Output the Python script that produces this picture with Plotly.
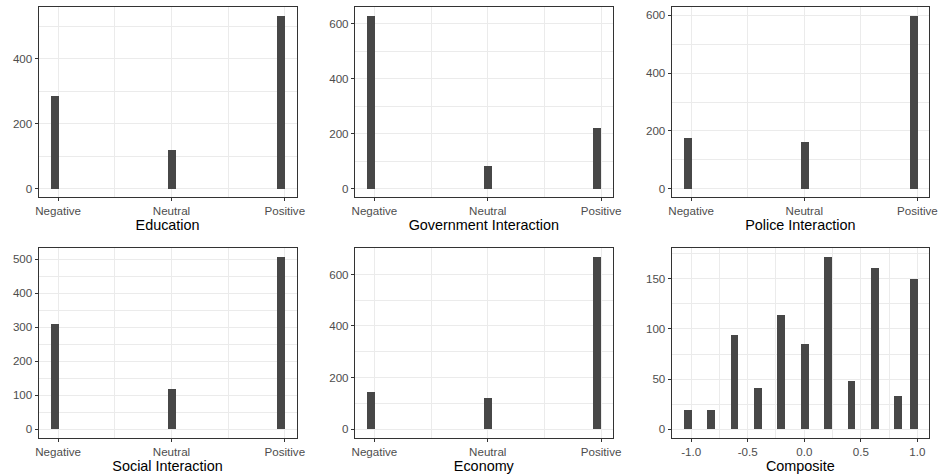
import numpy as np
import plotly.graph_objects as go

# Sentiment categories coded 1/2/3 on the x axis
categories = ["Negative", "Neutral", "Positive"]
category_codes = [1, 2, 3]

education = [284, 119, 532]
government = [629, 81, 222]
police = [175, 160, 599]
social = [309, 117, 507]
economy = [144, 121, 668]

# Composite score (mean of the five sentiment items) and its counts
composite_values = [-1.0, -0.8, -0.6, -0.4, -0.2, 0.0, 0.2, 0.4, 0.6, 0.8, 1.0]
composite_counts = [19, 19, 94, 41, 114, 85, 172, 48, 161, 33, 150]
composite_ticks = [-1.0, -0.5, 0.0, 0.5, 1.0]

panels = [
    ("Education", education),
    ("Government Interaction", government),
    ("Police Interaction", police),
    ("Social Interaction", social),
    ("Economy", economy),
]

BAR = "#474747"
GRID = "#ebebeb"
BORDER = "#333333"
TICKTXT = "#4d4d4d"
FONT = "Liberation Sans, Arial, sans-serif"

W, H = 946, 476
col_px = [(36, 297), (356, 617), (676.5, 937)]
row_px = [(7, 197.3), (248.3, 437.7)]


def bin_centers(values, width):
    # right-closed bins centred on multiples of the bin width
    v = np.asarray(values, dtype=float)
    k = np.ceil(v / width - 0.5 - 1e-9)
    return k * width, (k - 0.5) * width, (k + 0.5) * width


def expand(lo, hi, frac=0.05):
    pad = (hi - lo) * frac
    return [lo - pad, hi + pad]


fig = go.Figure()

for i in range(6):
    r, c = divmod(i, 3)
    n = i + 1
    xa = "x" if n == 1 else f"x{n}"
    ya = "y" if n == 1 else f"y{n}"
    xl, xr = col_px[c]
    yt, yb = row_px[r]

    if i < 5:
        title, counts = panels[i]
        w = (max(category_codes) - min(category_codes)) / 29
        xs = category_codes
    else:
        title, counts = "Composite", composite_counts
        w = (max(composite_values) - min(composite_values)) / 29
        xs = composite_values

    centers, lefts, rights = bin_centers(xs, w)
    fig.add_trace(go.Bar(
        x=centers, y=counts, width=[w] * len(counts),
        marker=dict(color=BAR, line=dict(width=0)),
        xaxis=xa, yaxis=ya, showlegend=False, hoverinfo="x+y",
    ))

    xrange = expand(lefts.min(), rights.max())
    yrange = expand(0, max(counts))

    if i < 5:
        xt = dict(tickmode="array", tickvals=category_codes, ticktext=categories)
        xminor = dict(tickmode="array", tickvals=[1.5, 2.5], showgrid=True,
                      gridcolor=GRID, gridwidth=0.6, ticks="")
    else:
        xt = dict(tickmode="array", tickvals=composite_ticks,
                  ticktext=[f"{t:.1f}" for t in composite_ticks])
        xminor = dict(tickmode="array", tickvals=[-0.75, -0.25, 0.25, 0.75],
                      showgrid=True, gridcolor=GRID, gridwidth=0.6, ticks="")

    ymax = max(counts)
    step = 100 if i == 3 else (50 if i == 5 else 200)
    yticks = list(np.arange(0, yrange[1], step))
    yminor_vals = [t + step / 2 for t in yticks if t + step / 2 < yrange[1]]

    axis_common = dict(
        showline=True, linecolor=BORDER, linewidth=1, mirror=True,
        ticks="outside", ticklen=3, tickcolor=BORDER, tickwidth=1,
        showgrid=True, gridcolor=GRID, gridwidth=1.1, zeroline=False,
        tickfont=dict(family=FONT, size=11.6, color=TICKTXT),
        fixedrange=True,
    )

    fig.layout[("xaxis" if n == 1 else f"xaxis{n}")] = dict(
        domain=[xl / W, xr / W], anchor=ya, range=xrange,
        title=dict(text=title, font=dict(family=FONT, size=14.4, color="#000000"),
                   standoff=3),
        minor=xminor, **xt, **axis_common,
    )
    fig.layout[("yaxis" if n == 1 else f"yaxis{n}")] = dict(
        domain=[1 - yb / H, 1 - yt / H], anchor=xa, range=yrange,
        tickmode="array", tickvals=yticks,
        ticktext=[f"{int(t)}" for t in yticks],
        minor=dict(tickmode="array", tickvals=yminor_vals, showgrid=True,
                   gridcolor=GRID, gridwidth=0.6, ticks=""),
        **axis_common,
    )

fig.update_layout(
    width=W, height=H,
    margin=dict(l=0, r=0, t=0, b=0),
    paper_bgcolor="white", plot_bgcolor="white",
    bargap=0, font=dict(family=FONT),
)

fig.write_html("out.html")
